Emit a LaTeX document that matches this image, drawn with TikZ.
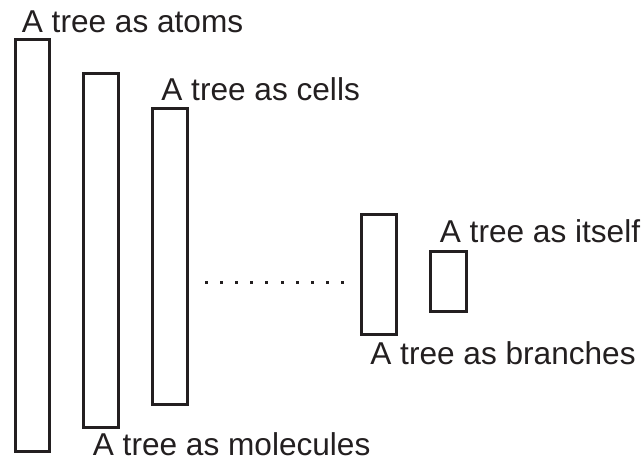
\documentclass[tikz,border=0pt]{standalone}
\usepackage{fontspec}
\setmainfont{Liberation Sans}
\definecolor{ink}{HTML}{231F20}
\begin{document}
\begin{tikzpicture}[x=0.5pt,y=-0.5pt,
  bar/.style={draw=ink,line width=1.5pt,inner sep=0pt,minimum width=17.5pt},
  lbl/.style={anchor=base west,inner sep=0pt,text=ink,font=\fontsize{15.8}{19}\selectfont}]
\useasboundingbox[fill=white] (0,0) rectangle (644,464);
\node[bar,minimum width=17pt,minimum height=206pt] (b1) at (32.5,245.5) {};
\node[bar,minimum height=177pt] (b2) at (101,250.5) {};
\node[bar,minimum height=148pt] (b3) at (170,256.5) {};
\node[bar,minimum height=59.75pt] (b4) at (378.5,274.75) {};
\node[bar,minimum width=18pt,minimum height=30pt] (b5) at (448,281.5) {};
\foreach \i in {0,...,9}
  \fill[ink] ({206+15.2*\i-1.5},281.5) rectangle ++(3,3);
\node[lbl] (t1) at (21.5,32.3) {A tree as atoms};
\node[lbl] (t2) at (161,100.7) {A tree as cells};
\node[lbl] (t3) at (439.5,242.3) {A tree as itself};
\node[lbl] (t4) at (370,365) {A tree as branches};
\node[lbl] (t5) at (92.5,455.7) {A tree as molecules};
\end{tikzpicture}
\end{document}
